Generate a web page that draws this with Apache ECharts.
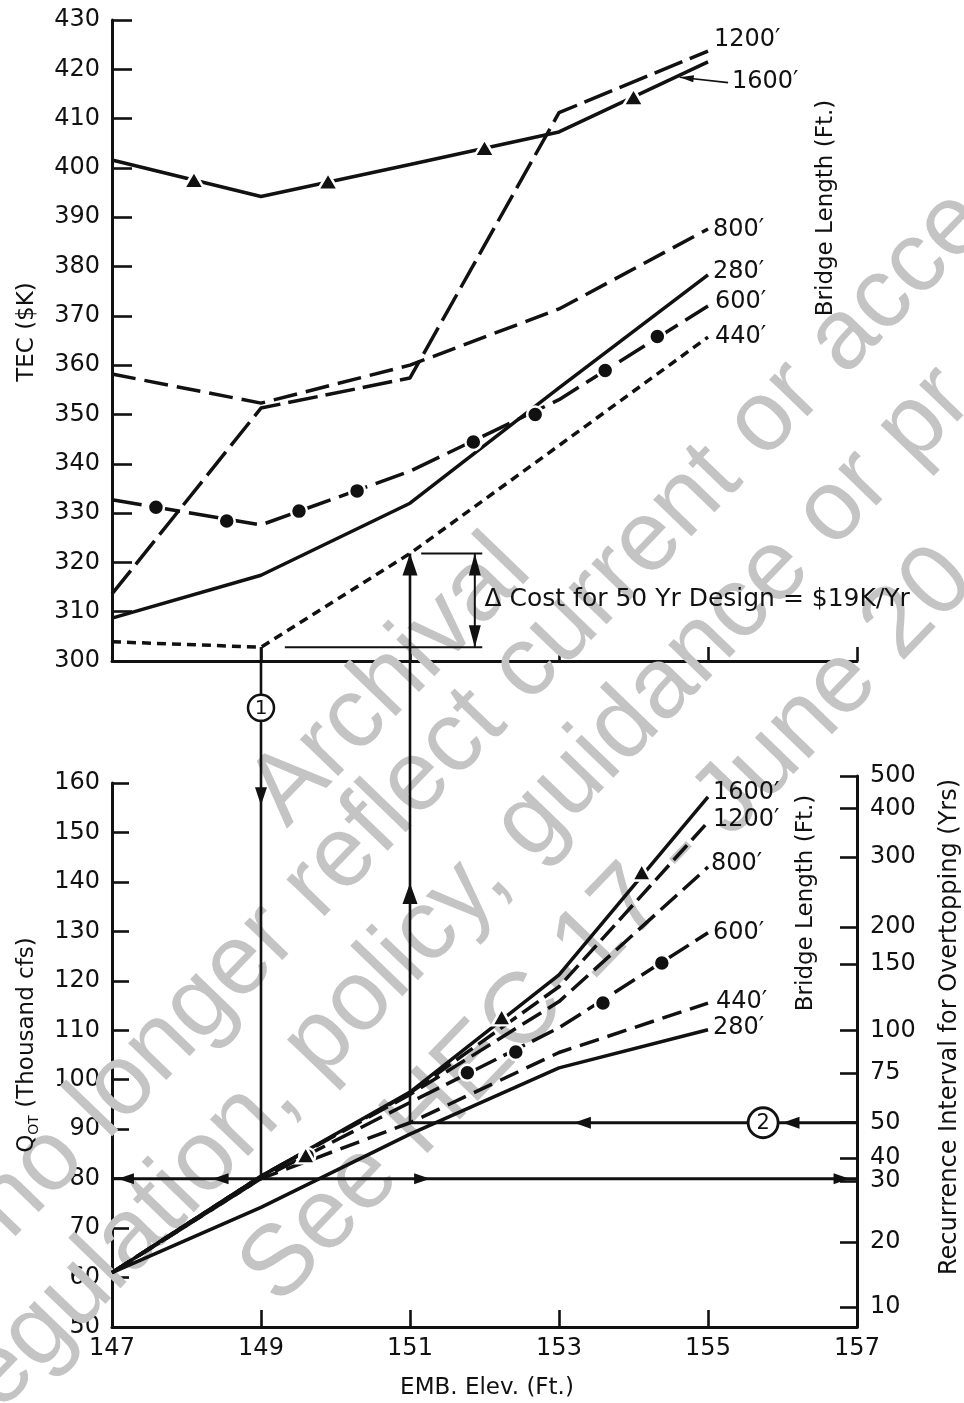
<!DOCTYPE html>
<html>
<head>
<meta charset="utf-8">
<script src="https://cdn.jsdelivr.net/npm/echarts@6/dist/echarts.min.js"></script>
<style>
html,body{margin:0;padding:0;background:#fff;}
#c{width:964px;height:1403px;}
</style>
</head>
<body>
<div id="c"></div>
<script>
// Embankment elevation (ft) at which each curve was evaluated
const elev = [147, 149, 151, 153, 155];
const xTicks = [147, 149, 151, 153, 155, 157];

// Total expected cost, TEC ($K), by bridge length
const tec280  = [308.7, 317.4, 332.0, 355.4, 378.3];
const tec440  = [303.9, 302.8, 321.8, 343.7, 365.7];
const tec600  = [332.7, 327.6, 338.5, 353.0, 372.0];
const tec800  = [358.2, 352.3, 360.0, 371.4, 387.6];
const tec1200 = [313.6, 351.3, 357.4, 411.2, 423.7];
const tec1600 = [401.6, 394.2, 400.7, 407.3, 421.5];
const tec600Dots  = [[147.59, 331.2], [148.54, 328.4], [149.51, 330.4], [150.29, 334.5], [151.85, 344.4], [152.68, 350.0], [153.62, 358.9], [154.32, 365.8]];
const tec1600Tris = [[148.1, 397.6], [149.9, 397.3], [152.0, 404.1], [154.0, 414.4]];

// Overtopping discharge Q_OT (thousand cfs), by bridge length
const q280  = [61, 74.2, 89.0, 102.4, 110.1];
const q440  = [61, 80.0, 91.3, 105.5, 115.5];
const q600  = [61, 80.0, 95.4, 110.5, 129.7];
const q800  = [61, 80.5, 97.0, 115.8, 143.0];
const q1200 = [61, 80.5, 97.3, 118.8, 152.1];
const q1600 = [61, 80.5, 97.5, 121.2, 157.2];
const q600Dots  = [[149.62, 84.6], [151.77, 101.4], [152.42, 105.6], [153.59, 115.5], [154.38, 123.6]];
const q1600Tris = [[149.6, 84.8], [152.23, 112.7], [154.11, 142.0]];

// Recurrence interval (yrs) and the discharge it corresponds to
const rpYears = [10, 20, 30, 40, 50, 75, 100, 150, 200, 300, 400, 500];
const rpQ     = [54.0, 67.2, 79.5, 84.2, 91.3, 101.4, 109.9, 123.4, 130.9, 145.0, 154.8, 161.4];

const FONT = '"DejaVu Sans", "Liberation Sans", sans-serif';
const INK = '#111';

const chart = echarts.init(document.getElementById('c'), null, {renderer: 'canvas'});
const pts = ys => elev.map((x, i) => [x, ys[i]]);

function curve(name, ys, grid, dash, width) {
  return {
    name: name, type: 'line', xAxisIndex: grid, yAxisIndex: grid,
    data: pts(ys), symbol: 'none', z: 3, silent: true,
    lineStyle: {color: INK, width: width || 3.5, type: dash, cap: 'butt'}
  };
}
function marks(data, grid, shape, size) {
  return {
    type: 'scatter', xAxisIndex: grid, yAxisIndex: grid, data: data,
    symbol: shape, symbolSize: size, z: 4, silent: true,
    itemStyle: {color: INK, borderColor: '#fff', borderWidth: 2.5, opacity: 1}
  };
}

const topCurves = [
  {name: "1200′", ys: tec1200, dash: [30, 8], off: [6, -11]},
  {name: "1600′", ys: tec1600, dash: 'solid', off: [24, 20]},
  {name: "800′",  ys: tec800,  dash: [24, 9], off: [5, 1]},
  {name: "280′",  ys: tec280,  dash: 'solid', off: [5, -3]},
  {name: "600′",  ys: tec600,  dash: [30, 9], off: [7, -4]},
  {name: "440′",  ys: tec440,  dash: [9, 6],  off: [7, 0]}
];
const botCurves = [
  {name: "1600′", ys: q1600, dash: 'solid',  off: [5, -4]},
  {name: "1200′", ys: q1200, dash: [20, 7],  off: [5, -2]},
  {name: "800′",  ys: q800,  dash: [22, 8],  off: [3, -3]},
  {name: "600′",  ys: q600,  dash: [24, 8],  off: [5, 0]},
  {name: "440′",  ys: q440,  dash: [20, 9],  off: [8, -1]},
  {name: "280′",  ys: q280,  dash: 'solid',  off: [5, -2]}
];

const series = [];
topCurves.forEach(c => series.push(curve(c.name, c.ys, 0, c.dash)));
botCurves.forEach(c => series.push(curve(c.name, c.ys, 1, c.dash)));
series.push(marks(tec600Dots, 0, 'circle', 16));
series.push(marks(tec1600Tris, 0, 'triangle', [20, 17]));
series.push(marks(q600Dots, 1, 'circle', 16));
series.push(marks(q1600Tris, 1, 'triangle', [19, 17]));

const axisLineStyle = {show: true, lineStyle: {color: INK, width: 3}};
const tickStyle = {color: INK, width: 2.6};
const labelStyle = {color: INK, fontSize: 24, fontFamily: FONT};

const option = {
  animation: false,
  backgroundColor: '#fff',
  textStyle: {fontFamily: FONT},
  grid: [
    {left: 112, width: 745, top: 20, height: 641},
    {left: 112, width: 745, top: 783, height: 544},
    {left: 112, width: 745, top: 776, height: 551}
  ],
  xAxis: [
    {gridIndex: 0, type: 'value', min: 147, max: 157,
     axisLine: axisLineStyle,
     axisTick: {show: true, inside: true, length: 14, lineStyle: tickStyle, customValues: xTicks},
     axisLabel: {show: false}, splitLine: {show: false}},
    {gridIndex: 1, type: 'value', min: 147, max: 157,
     axisLine: axisLineStyle,
     axisTick: {show: true, inside: true, length: 17, lineStyle: tickStyle, customValues: xTicks},
     axisLabel: Object.assign({margin: 10, customValues: xTicks}, labelStyle),
     splitLine: {show: false}},
    {gridIndex: 2, type: 'value', min: 147, max: 157, show: false}
  ],
  yAxis: [
    {gridIndex: 0, type: 'value', min: 300, max: 430, interval: 10,
     axisLine: axisLineStyle,
     axisTick: {show: true, inside: true, length: 20, lineStyle: tickStyle},
     axisLabel: Object.assign({margin: 12}, labelStyle), splitLine: {show: false}},
    {gridIndex: 1, type: 'value', min: 50, max: 160, interval: 10,
     axisLine: axisLineStyle,
     axisTick: {show: true, inside: true, length: 17, lineStyle: tickStyle},
     axisLabel: Object.assign({margin: 12}, labelStyle), splitLine: {show: false}},
    {gridIndex: 2, type: 'value', position: 'right', min: 50, max: 161.4,
     axisLine: axisLineStyle,
     axisTick: {show: true, inside: true, length: 17, lineStyle: tickStyle, customValues: rpQ},
     axisLabel: Object.assign({margin: 13, customValues: rpQ, formatter: function (v) {
       let best = 0;
       rpQ.forEach((q, i) => { if (Math.abs(q - v) < Math.abs(rpQ[best] - v)) best = i; });
       return String(rpYears[best]);
     }}, labelStyle),
     splitLine: {show: false}}
  ],
  series: series
};
chart.setOption(option);

// ---- overlay: curve labels, design routes, titles ----
const P = (gi, x, y) => chart.convertToPixel({gridIndex: gi}, [x, y]);
const els = [];
const seg = (a, b, w) => els.push({type: 'line', z: 20, shape: {x1: a[0], y1: a[1], x2: b[0], y2: b[1]}, style: {stroke: INK, lineWidth: w || 2.6}});
const head = (tip, ang, L, W) => {
  L = L || 18; W = W || 11;
  const ux = Math.cos(ang), uy = Math.sin(ang);
  const bx = tip[0] - ux * L, by = tip[1] - uy * L;
  els.push({type: 'polygon', z: 21, shape: {points: [[tip[0], tip[1]], [bx - uy * W / 2, by + ux * W / 2], [bx + uy * W / 2, by - ux * W / 2]]}, style: {fill: INK}});
};
const txt = (x, y, s, size, opts) => els.push(Object.assign({type: 'text', z: 22, x: x, y: y,
  style: {text: s, fill: INK, font: (size || 24) + 'px ' + FONT, textAlign: 'left', textVerticalAlign: 'middle'}}, opts || {}));
const UP = -Math.PI / 2, DOWN = Math.PI / 2, LEFT = Math.PI, RIGHT = 0;

// curve labels at the line ends
topCurves.forEach(c => { const e = P(0, elev[4], c.ys[4]); txt(e[0] + c.off[0], e[1] + c.off[1], c.name, 24); });
botCurves.forEach(c => { const e = P(1, elev[4], c.ys[4]); txt(e[0] + c.off[0], e[1] + c.off[1], c.name, 24); });
// leader from the 1600′ label to its line
const ldTail = P(0, 155.27, 417.3), ldTip = P(0, 154.62, 418.4);
seg(ldTail, ldTip, 1.6);
head(ldTip, Math.atan2(ldTip[1] - ldTail[1], ldTip[0] - ldTail[0]), 14, 7);

// design route 1: minimum TEC of the 440′ bridge down to its discharge
const e30 = elev[1], q30 = q440[1];
seg(P(0, e30, tec440[1]), P(1, e30, q30), 2.6);
head(P(1, e30, 155.5), DOWN, 18, 12);
const c1 = P(0, e30, 290.5);
els.push({type: 'circle', z: 23, shape: {cx: c1[0], cy: c1[1], r: 13}, style: {fill: '#fff', stroke: INK, lineWidth: 2.5}});
els.push({type: 'text', z: 24, x: c1[0], y: c1[1] + 1, style: {text: '1', fill: INK, font: '20px ' + FONT, textAlign: 'center', textVerticalAlign: 'middle'}});

// discharge line carried across to the recurrence interval scale
seg(P(1, 147, q30), P(1, 157, q30), 3);
head(P(1, 147.08, q30), LEFT, 16, 11);
head(P(1, 148.35, q30), LEFT, 16, 11);
head(P(1, 151.27, q30), RIGHT, 16, 11);
head(P(1, 156.9, q30), RIGHT, 16, 11);

// design route 2: 50 yr event back to the 440′ curve and up to its TEC
const e50 = elev[2], q50 = rpQ[rpYears.indexOf(50)];
seg(P(1, 157, q50), P(1, e50, q50), 3);
head(P(1, 153.2, q50), LEFT, 17, 12);
head(P(1, 156.0, q50), LEFT, 17, 12);
const c2 = P(1, 155.74, q50);
els.push({type: 'circle', z: 23, shape: {cx: c2[0], cy: c2[1], r: 15}, style: {fill: '#fff', stroke: INK, lineWidth: 2.8}});
els.push({type: 'text', z: 24, x: c2[0], y: c2[1] + 1, style: {text: '2', fill: INK, font: '21px ' + FONT, textAlign: 'center', textVerticalAlign: 'middle'}});
seg(P(1, e50, q50), P(0, e50, tec440[2]), 2.6);
head(P(1, e50, 139.8), UP, 21, 15);
head(P(0, e50, tec440[2]), UP, 22, 15);

// cost difference bracket
seg(P(0, 151.15, tec440[2]), P(0, 151.97, tec440[2]), 2);
seg(P(0, 149.32, tec440[1]), P(0, 151.97, tec440[1]), 2);
seg(P(0, 151.87, tec440[1]), P(0, 151.87, tec440[2]), 2);
head(P(0, 151.87, tec440[2]), UP, 22, 12);
head(P(0, 151.87, tec440[1]), DOWN, 22, 12);
const dl = P(0, 152.0, 312.4);
txt(dl[0], dl[1], 'Δ Cost for 50 Yr Design = $' + Math.round(tec440[2] - tec440[1]) + 'K/Yr', 25);

// axis titles
els.push({type: 'text', z: 22, x: 27, y: 332, rotation: Math.PI / 2,
  style: {text: 'TEC ($K)', fill: INK, font: '23px ' + FONT, textAlign: 'center', textVerticalAlign: 'middle'}});
els.push({type: 'text', z: 22, x: 27, y: 1045, rotation: Math.PI / 2,
  style: {text: '{a|Q}{s|OT}{a| (Thousand cfs)}', textAlign: 'center', textVerticalAlign: 'middle',
    rich: {a: {fill: INK, font: '23px ' + FONT, lineHeight: 28, verticalAlign: 'middle'},
           s: {fill: INK, font: '14px ' + FONT, lineHeight: 28, verticalAlign: 'bottom'}}}});
els.push({type: 'text', z: 22, x: 826, y: 208, rotation: Math.PI / 2,
  style: {text: 'Bridge Length (Ft.)', fill: INK, font: '23px ' + FONT, textAlign: 'center', textVerticalAlign: 'middle'}});
els.push({type: 'text', z: 22, x: 806, y: 903, rotation: Math.PI / 2,
  style: {text: 'Bridge Length (Ft.)', fill: INK, font: '23px ' + FONT, textAlign: 'center', textVerticalAlign: 'middle'}});
els.push({type: 'text', z: 22, x: 950, y: 1027, rotation: Math.PI / 2,
  style: {text: 'Recurrence Interval for Overtopping (Yrs)', fill: INK, font: '24px ' + FONT, textAlign: 'center', textVerticalAlign: 'middle'}});
els.push({type: 'text', z: 22, x: 487, y: 1388,
  style: {text: 'EMB. Elev. (Ft.)', fill: INK, font: '23px ' + FONT, textAlign: 'center', textVerticalAlign: 'middle'}});

// archive stamp across the sheet (baseline start points, rotated text)
const stampAngle = 46 * Math.PI / 180, stampSize = 100;
const nx = Math.sin(stampAngle), ny = Math.cos(stampAngle);
const stamp = [
  ['Archival', 290, 832],
  ['y no longer reflect current or acce', -40, 1300],
  ['regulation, policy, guidance or pr', -20, 1440],
  ['See HEC-17 - June 20', 282, 1310]
];
stamp.forEach(s => {
  els.push({type: 'text', z: 1, silent: true,
    x: s[1] - nx * 0.32 * stampSize, y: s[2] - ny * 0.32 * stampSize, rotation: stampAngle,
    style: {text: s[0], fill: '#c4c4c4', font: stampSize + 'px "Liberation Sans", Arial, sans-serif',
      textAlign: 'left', textVerticalAlign: 'middle'}});
});

chart.setOption({graphic: {elements: els}});
</script>
</body>
</html>
